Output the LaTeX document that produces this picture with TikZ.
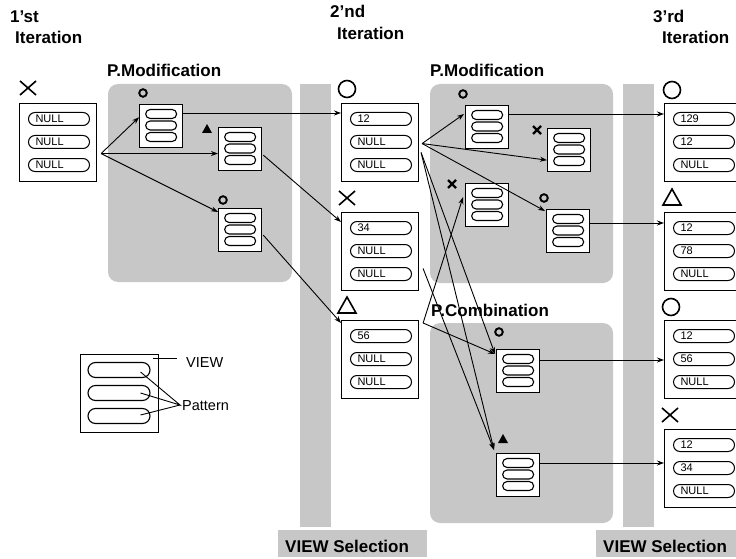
\documentclass[tikz,border=0pt]{standalone}
\usepackage{fontspec}
\setmainfont{Liberation Sans}
\usetikzlibrary{arrows.meta,calc}
\tikzset{
 vbox/.style={draw, line width=1.1pt, fill=white, minimum width=77pt, minimum height=78pt, inner sep=0, anchor=north west},
 vpill/.style={draw, line width=1pt, rounded corners=6.5pt, minimum width=61pt, minimum height=13pt, inner sep=0, anchor=north west, font=\fontsize{11}{11}\selectfont},
 ibox/.style={draw, line width=1.3pt, fill=white, minimum width=43pt, minimum height=43pt, inner sep=0, anchor=north west},
 ipill/.style={draw, line width=1.1pt, rounded corners=4.5pt, minimum width=31pt, minimum height=9pt, inner sep=0, anchor=center},
 lpill/.style={draw, line width=1.1pt, rounded corners=7.5pt, minimum width=62pt, minimum height=15pt, inner sep=0, anchor=center},
 region/.style={fill=black!22, rounded corners=10pt},
 stripe/.style={fill=black!22},
 heading/.style={font=\bfseries\fontsize{17}{20}\selectfont, anchor=base west, inner sep=0},
 legtext/.style={font=\fontsize{14.5}{16}\selectfont, anchor=base west, inner sep=0},
 arr/.style={-{Stealth[length=7pt,width=5pt]}, line width=0.9pt},
 bigmark/.style={line width=1.6pt},
 smallmark/.style={line width=1.9pt},
}
\newcommand\ViewBox[6]{%
 \node[vbox] (#1) at (#2,#3) {};
 \node[vpill] (#1a) at ($(#1.north west)+(9,9)$) {\hbox to 61pt{\hspace{7pt}#4\hfil}};
 \node[vpill] (#1b) at ($(#1.north west)+(9,32)$) {\hbox to 61pt{\hspace{7pt}#5\hfil}};
 \node[vpill] (#1c) at ($(#1.north west)+(9,55)$) {\hbox to 61pt{\hspace{7pt}#6\hfil}};
}
\newcommand\Icon[3]{%
 \node[ibox] (#1) at (#2,#3) {};
 \node[ipill] (#1a) at ($(#1.north)+(0,10)$) {};
 \node[ipill] (#1b) at ($(#1.north)+(0,21.5)$) {};
 \node[ipill] (#1c) at ($(#1.north)+(0,33)$) {};
}
\newcommand\BigCirc[2]{\draw[bigmark] (#1,#2) circle[radius=8.5pt];}
\newcommand\BigCross[2]{\draw[bigmark] ($(#1,#2)+(-8,-7)$) -- ($(#1,#2)+(8,7)$) ($(#1,#2)+(-8,7)$) -- ($(#1,#2)+(8,-7)$);}
\newcommand\BigTri[2]{\draw[bigmark, line join=miter] ($(#1,#2)+(-9,8)$) -- ($(#1,#2)+(9,8)$) -- ($(#1,#2)+(0,-8)$) -- cycle;}
\newcommand\SmCirc[2]{\draw[smallmark] (#1,#2) circle[radius=3.8pt];}
\newcommand\SmCross[2]{\draw[line width=2.3pt] ($(#1,#2)+(-4,-4)$) -- ($(#1,#2)+(4,4)$) ($(#1,#2)+(-4,4)$) -- ($(#1,#2)+(4,-4)$);}
\newcommand\SmTri[2]{\fill ($(#1,#2)+(-5,4)$) -- ($(#1,#2)+(5,4)$) -- ($(#1,#2)+(0,-5)$) -- cycle;}
\begin{document}
\begin{tikzpicture}[x=1pt,y=-1pt]
\useasboundingbox (0,0) rectangle (736,559);
% shaded regions
\fill[region] (108,84) rectangle (292,282);
\fill[region] (430,84) rectangle (613,283);
\fill[region] (430,323) rectangle (613,523);
\fill[stripe] (300,84) rectangle (331,527);
\fill[stripe] (623,84) rectangle (654,527);
\fill[stripe] (278,530) rectangle (427,557);
\fill[stripe] (596,530) rectangle (736,557);
% headings
\node[heading] (h1a) at (10,23) {1'st};
\node[heading] (h1b) at (15,44) {Iteration};
\node[heading] (h2a) at (330,18) {2'nd};
\node[heading] (h2b) at (337,40) {Iteration};
\node[heading] (h3a) at (653,23) {3'rd};
\node[heading] (h3b) at (662,44) {Iteration};
\node[heading] (pm1) at (107,77) {P.Modification};
\node[heading] (pm2) at (430,77) {P.Modification};
\node[heading] (pc) at (431,316) {P.Combination};
\node[heading] (vs1) at (285,552) {VIEW Selection};
\node[heading] (vs2) at (603,552) {VIEW Selection};
% views
\ViewBox{v1}{19}{103}{NULL}{NULL}{NULL}
\ViewBox{v2}{341}{103}{12}{NULL}{NULL}
\ViewBox{v3}{341}{212}{34}{NULL}{NULL}
\ViewBox{v4}{341}{320}{56}{NULL}{NULL}
\ViewBox{w1}{664}{103}{129}{12}{NULL}
\ViewBox{w2}{664}{212}{12}{78}{NULL}
\ViewBox{w3}{664}{320}{12}{56}{NULL}
\ViewBox{w4}{664}{429}{12}{34}{NULL}
% big markers
\BigCross{28}{88}
\BigCirc{347}{89}
\BigCross{347}{198}
\BigTri{347}{305}
\BigCirc{672}{90}
\BigTri{672}{197}
\BigCirc{671}{307}
\BigCross{670}{415}
% icons
\Icon{A}{139}{104}
\Icon{B}{218}{127}
\Icon{C}{218}{208}
\Icon{D}{465}{105}
\Icon{E}{547}{128}
\Icon{F}{465}{183}
\Icon{G}{546}{209}
\Icon{H}{496}{349}
\Icon{I}{496}{453}
% small markers
\SmCirc{143}{93}
\SmTri{207}{129}
\SmCirc{223}{200}
\SmCirc{463}{94}
\SmCross{537}{130}
\SmCross{452}{184}
\SmCirc{544}{198}
\SmCirc{499}{332}
\SmTri{503}{439}
% connectors
\coordinate (o1) at ($(v1.east)+(4,11)$);
\draw[arr] (o1) -- ($(A.north west)!0.3!(A.south west)$);
\draw[arr] (o1) -- (o1 -| B.west);
\draw[arr] (o1) -- ($(C.north west)+(0,4)$);
\coordinate (a1) at ($(A.north east)+(0,9)$);
\draw[arr] (a1) -- (a1 -| v2.west);
\draw[arr] ($(B.east)+(1,6)$) -- ($(v3.north west)+(0,10)$);
\draw[arr] ($(C.east)+(1,5)$) -- ($(v4.north west)+(0,3)$);
\coordinate (o2) at ($(v2.east)+(3,1)$);
\draw[arr] (o2) -- ($(D.north west)+(-1,9)$);
\draw[arr] (o2) -- ($(E.west)+(0,10)$);
\draw[arr] (o2) -- ($(G.north west)+(-1,2)$);
\coordinate (o3) at ($(v2.east)+(2,10)$);
\draw[arr] (o3) -- ($(H.north west)+(-1,5)$);
\draw[arr] (o3) -- ($(I.north west)+(-2,-3)$);
\coordinate (o4) at ($(v3.east)+(4,17)$);
\draw[arr] (o4) -- ($(I.north west)+(-2,-3)$);
\coordinate (o5) at ($(v4.north east)+(4,3)$);
\draw[arr] (o5) -- ($(H.north west)+(-1,5)$);
\draw[arr] (o5) -- ($(F.west)+(-2,-8)$);
\coordinate (d1) at ($(D.north east)+(0,9)$);
\draw[arr] (d1) -- (d1 -| w1.west);
\coordinate (g1) at ($(G.north east)+(0,14)$);
\draw[arr] (g1) -- (g1 -| w2.west);
\coordinate (hh) at ($(H.north east)+(0,11)$);
\draw[arr] (hh) -- (hh -| w3.west);
\coordinate (ii) at ($(I.north east)+(0,10)$);
\draw[arr] (ii) -- (ii -| w4.west);
% legend
\node[draw, line width=1pt, minimum width=78pt, minimum height=78pt, inner sep=0, anchor=north west] (lg) at (80,354) {};
\node[lpill] (lga) at (119,370) {};
\node[lpill] (lgb) at (119,393) {};
\node[lpill] (lgc) at (119,416) {};
\node[legtext] (lview) at (186,367) {VIEW};
\node[legtext] (lpat) at (182,410) {Pattern};
\coordinate (lv) at (177,358);
\coordinate (lp) at (180,405);
\draw[line width=0.8pt] ($(lg.north east)+(-6,4)$) -- (lv);
\draw[line width=0.9pt] ($(lga.east)+(-10,2)$) -- (lp) -- ($(lgb.east)+(-10,0)$);
\draw[line width=0.9pt] ($(lgc.east)+(-10,-1)$) -- (lp);
\end{tikzpicture}
\end{document}
